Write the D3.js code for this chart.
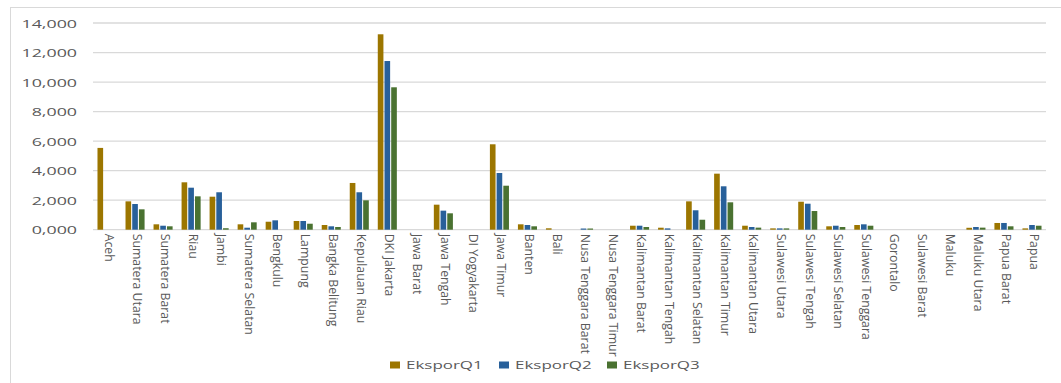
<!DOCTYPE html>
<html>
<head>
<meta charset="utf-8">
<script src="https://cdn.jsdelivr.net/npm/d3@7"></script>
<style>
  html, body { margin: 0; padding: 0; background: #fff; }
  svg { display: block; }
  text { font-family: "Open Sans", sans-serif; fill: #595959; }
</style>
</head>
<body>
<svg id="chart" width="1061" height="383"></svg>
<script>
// Provinces (categories)
const provinces = [
  "Aceh", "Sumatera Utara", "Sumatera Barat", "Riau", "Jambi", "Sumatera Selatan",
  "Bengkulu", "Lampung", "Bangka Belitung", "Kepulauan Riau", "DKI Jakarta",
  "Jawa Barat", "Jawa Tengah", "DI Yogyakarta", "Jawa Timur", "Banten", "Bali",
  "Nusa Tenggara Barat", "Nusa Tenggara Timur", "Kalimantan Barat", "Kalimantan Tengah",
  "Kalimantan Selatan", "Kalimantan Timur", "Kalimantan Utara", "Sulawesi Utara",
  "Sulawesi Tengah", "Sulawesi Selatan", "Sulawesi Tenggara", "Gorontalo",
  "Sulawesi Barat", "Maluku", "Maluku Utara", "Papua Barat", "Papua"
];

// Export values per quarter
const eksporQ1 = [
  5540, 1920, 365, 3210, 2235, 365,
  540, 590, 318, 3165, 13235,
  0, 1695, 0, 5785, 365, 95,
  0, 0, 270, 135,
  1920, 3795, 270, 90,
  1895, 230, 318, 0,
  0, 0, 130, 455, 90
];
const eksporQ2 = [
  0, 1740, 270, 2845, 2535, 135,
  635, 590, 230, 2535, 11425,
  0, 1290, 0, 3840, 318, 0,
  80, 0, 270, 90,
  1315, 2940, 183, 90,
  1760, 270, 365, 0,
  0, 0, 183, 455, 318
];
const eksporQ3 = [
  0, 1380, 230, 2260, 100, 500,
  0, 405, 183, 1990, 9645,
  0, 1110, 0, 2980, 230, 0,
  80, 0, 183, 0,
  675, 1855, 140, 90,
  1265, 183, 270, 0,
  0, 0, 140, 230, 270
];

const seriesNames = ["EksporQ1", "EksporQ2", "EksporQ3"];
const seriesColors = ["#9c7600", "#28609a", "#4a7231"];
const seriesValues = [eksporQ1, eksporQ2, eksporQ3];

const yTickValues = [0, 2000, 4000, 6000, 8000, 10000, 12000, 14000];
const yTickLabels = ["0,000", "2,000", "4,000", "6,000", "8,000", "10,000", "12,000", "14,000"];

const svg = d3.select("#chart");

// Chart frame
svg.append("rect")
  .attr("x", 10.5).attr("y", 7.5)
  .attr("width", 1100).attr("height", 400)
  .attr("fill", "none").attr("stroke", "#d9d9d9").attr("stroke-width", 1);

const plot = { left: 93, right: 1046, top: 23, bottom: 229.7 };

const x = d3.scaleBand()
  .domain(provinces)
  .range([plot.left, plot.right])
  .paddingInner(0.32)
  .paddingOuter(0.16);

const xs = d3.scaleBand()
  .domain(seriesNames)
  .range([0, x.bandwidth()])
  .paddingInner(0.16);

const y = d3.scaleLinear()
  .domain([0, 14000])
  .range([plot.bottom, plot.top]);

// Gridlines
svg.append("g")
  .selectAll("line")
  .data(yTickValues)
  .join("line")
  .attr("x1", plot.left).attr("x2", plot.right)
  .attr("y1", d => y(d)).attr("y2", d => y(d))
  .attr("stroke", "#d9d9d9").attr("stroke-width", 1.3);

// Y axis labels, drawn wide
const yAxis = svg.append("g")
  .attr("transform", "translate(77,0)")
  .call(d3.axisLeft(y).tickValues(yTickValues).tickFormat((d, i) => yTickLabels[i]).tickSize(0).tickPadding(0));
yAxis.select(".domain").remove();
yAxis.selectAll(".tick text")
  .attr("font-family", "Open Sans, sans-serif")
  .attr("font-size", 11.5)
  .attr("fill", "#595959")
  .attr("x", 0)
  .attr("dy", "0.36em")
  .attr("transform", "scale(1.55,1)");

// Bars
const groups = svg.append("g")
  .selectAll("g")
  .data(provinces)
  .join("g")
  .attr("transform", d => `translate(${x(d)},0)`);

groups.selectAll("rect")
  .data((p, i) => seriesNames.map((s, k) => ({ s, v: seriesValues[k][i], c: seriesColors[k] })))
  .join("rect")
  .attr("x", d => xs(d.s))
  .attr("width", xs.bandwidth())
  .attr("y", d => y(d.v))
  .attr("height", d => y(0) - y(d.v))
  .attr("fill", d => d.c);

// Category labels, rotated to read top-to-bottom
const xAxis = svg.append("g")
  .attr("transform", `translate(0,${plot.bottom})`)
  .call(d3.axisBottom(x).tickSize(0).tickPadding(0));
xAxis.select(".domain").remove();
xAxis.selectAll("text")
  .attr("font-family", "Open Sans, sans-serif")
  .attr("font-size", 12.3)
  .attr("fill", "#595959")
  .attr("text-anchor", "start")
  .attr("x", 0).attr("y", 0)
  .attr("dy", "0.1em")
  .attr("transform", "translate(-1,4) rotate(90)");

// Legend
const legend = svg.append("g").attr("transform", "translate(390,365)");
const legendX = [0, 109, 217];
const li = legend.selectAll("g")
  .data(seriesNames)
  .join("g")
  .attr("transform", (d, i) => `translate(${legendX[i]},0)`);
li.append("rect")
  .attr("x", 0).attr("y", -3.5)
  .attr("width", 10).attr("height", 7)
  .attr("fill", (d, i) => seriesColors[i]);
li.append("text")
  .attr("transform", "translate(16,0) scale(1.5,1)")
  .attr("font-size", 11.3)
  .attr("dy", "0.36em")
  .text(d => d);
</script>
</body>
</html>
